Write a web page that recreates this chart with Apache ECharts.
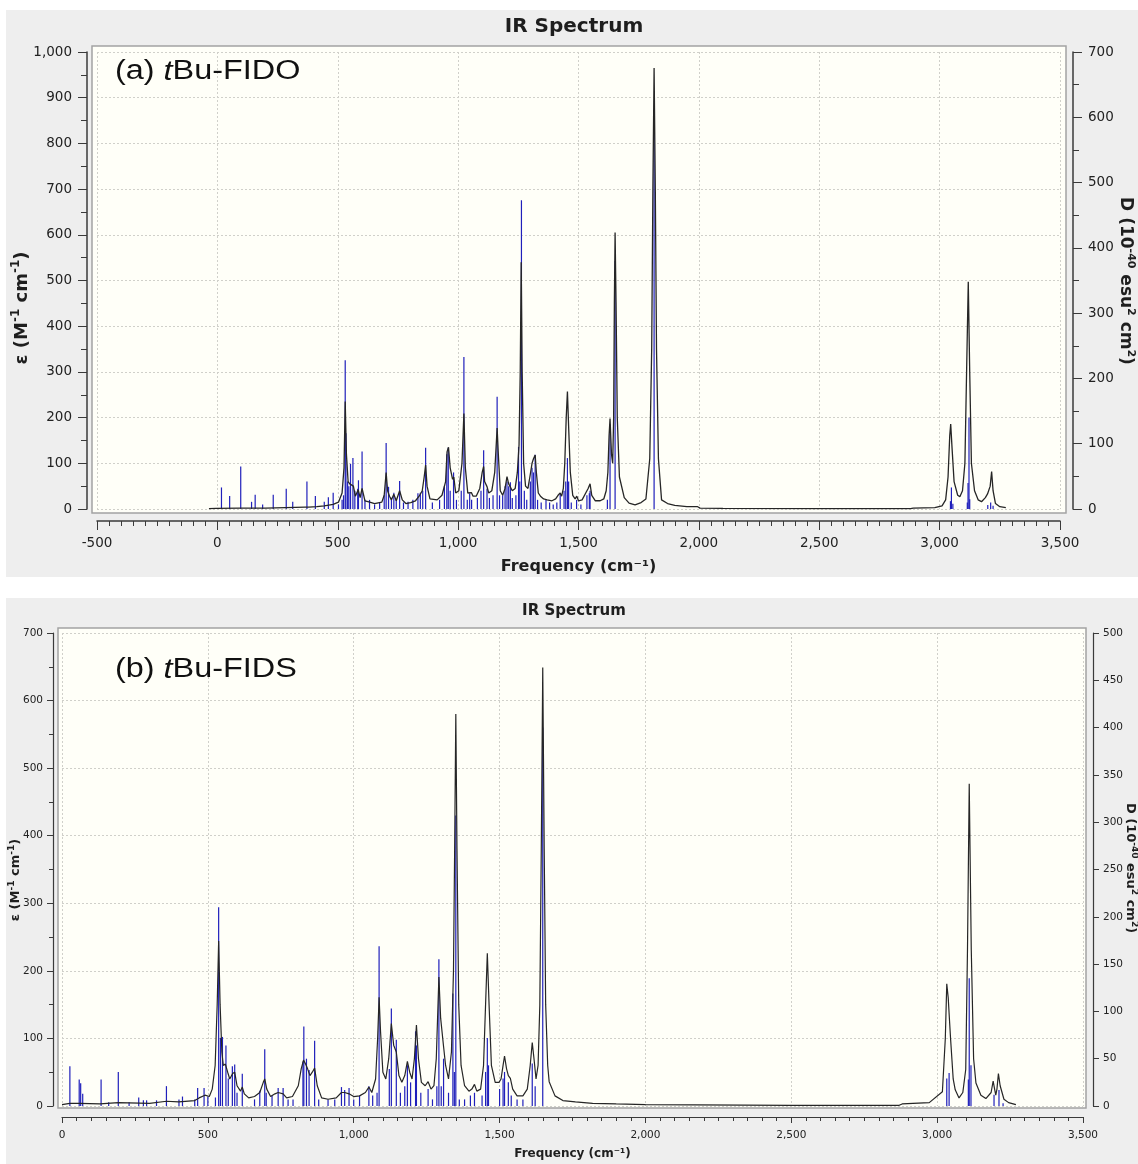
<!DOCTYPE html>
<html><head><meta charset="utf-8">
<script src="https://cdn.jsdelivr.net/npm/echarts@6/dist/echarts.min.js"></script>
<style>html,body{margin:0;padding:0;background:#fff;}#c{width:1138px;height:1164px;}</style>
</head><body><div id="c"></div>
<script>
// ---------- (a) tBu-FIDO ----------
const fidoCurveFreq = [
 -35,-5,95,97,100,200,283,286,289,365,
 372,380,413,444,481,503,518,526,531,536,
 543,550,558,565,573,585,593,601,613,633,
 653,683,693,701,707,715,723,733,743,757,
 768,783,803,823,838,851,859,865,871,883,
 913,933,948,954,960,967,977,982,990,1003,
 1016,1024,1030,1040,1055,1062,1075,1090,1100,1106,
 1110,1120,1127,1140,1152,1162,1167,1175,1185,1195,
 1203,1210,1217,1225,1237,1246,1253,1258,1262,1266,
 1272,1280,1290,1298,1307,1313,1320,1325,1333,1342,
 1355,1370,1390,1405,1415,1424,1430,1437,1443,1449,
 1454,1459,1466,1476,1486,1493,1500,1515,1530,1540,
 1548,1555,1570,1590,1605,1615,1622,1627,1631,1637,
 1642,1646,1649,1652,1656,1661,1670,1690,1710,1735,
 1760,1780,1796,1804,1809,1814,1819,1824,1832,1845,
 1870,1900,1950,1995,2005,2100,2500,2880,2890,2980,
 3010,3025,3035,3042,3046,3052,3060,3075,3084,3095,
 3105,3112,3119,3125,3132,3145,3160,3174,3190,3199,
 3206,3210,3216,3222,3232,3250,3275
];
const fidoCurveEps = [
 1,1.5,2,5,2,2,3,6,3,4,
 8,4,5,7,10,15,35,90,235,120,
 60,55,58,50,28,42,25,45,18,15,
 12,15,30,80,40,28,20,32,18,40,
 20,12,14,18,28,40,70,96,50,22,
 20,30,60,125,135,90,65,70,35,40,
 100,209,90,35,36,28,28,45,80,93,
 60,49,35,40,80,177,120,40,30,45,
 71,55,58,40,45,80,140,300,540,300,
 100,50,45,70,100,110,118,80,35,28,
 22,20,18,22,30,35,28,45,100,200,
 257,180,80,30,22,28,18,20,35,45,
 55,30,18,18,22,40,80,160,198,120,
 100,200,450,605,450,200,70,25,13,9,
 14,22,110,350,700,965,700,350,110,20,
 12,8,5,5,2,1.5,1,1,2,3,
 7,20,70,160,186,130,60,30,27,40,
 100,300,497,300,100,40,20,16,25,33,
 30,50,82,40,12,5,3
];
const fidoStickFreq = [
 17,51,97,142,157,188,232,286,313,372,
 407,444,461,481,503,518,524,531,534,541,
 546,553,563,571,583,586,601,613,632,653,
 674,693,701,711,723,733,743,757,773,792,
 812,833,843,853,865,893,923,943,953,959,
 967,981,993,1013,1024,1038,1048,1056,1080,1095,
 1106,1120,1130,1145,1162,1172,1185,1195,1203,1210,
 1217,1225,1240,1251,1256,1263,1275,1285,1300,1307,
 1313,1320,1330,1345,1365,1380,1395,1410,1424,1440,
 1447,1454,1459,1470,1492,1510,1535,1545,1548,1620,
 1631,1652,1814,3045,3049,3055,3115,3118,3122,3125,
 3200,3212,3222
];
const fidoStickD = [
 33,20,65,11,22,7,22,31,11,42,
 20,11,18,25,7,14,21,228,116,42,
 35,69,78,28,31,44,88,14,14,7,
 10,21,101,34,17,25,14,43,10,11,
 14,24,25,28,94,10,14,35,84,94,
 28,56,14,28,233,14,24,14,17,28,
 90,31,17,21,172,21,21,35,42,35,
 41,17,21,95,42,473,28,14,42,63,
 56,83,14,10,14,10,7,10,24,28,
 42,78,42,10,14,7,21,24,28,14,
 130,380,600,12,33,8,10,40,140,15,
 6,10,5
];

// ---------- (b) tBu-FIDS ----------
const fidsCurveFreq = [
 0,27,60,130,193,300,358,400,455,470,
 490,505,515,525,532,537,542,548,553,560,
 568,575,585,592,600,612,618,625,640,660,
 678,690,695,702,715,730,741,758,770,790,
 810,820,828,835,842,850,858,866,875,890,
 912,940,958,969,984,1000,1020,1040,1052,1062,
 1075,1082,1087,1092,1100,1110,1120,1129,1137,1146,
 1155,1165,1175,1184,1192,1200,1208,1215,1222,1232,
 1245,1255,1265,1275,1283,1292,1298,1308,1315,1325,
 1335,1342,1346,1350,1354,1360,1368,1380,1395,1405,
 1414,1422,1435,1445,1452,1458,1464,1472,1485,1498,
 1505,1512,1517,1524,1530,1537,1545,1560,1580,1595,
 1605,1612,1618,1625,1632,1638,1643,1648,1653,1658,
 1665,1670,1690,1717,1760,1819,1900,2000,2500,2870,
 2880,2973,3018,3028,3033,3038,3041,3046,3055,3062,
 3075,3088,3098,3104,3110,3117,3125,3133,3150,3167,
 3185,3192,3197,3201,3205,3210,3216,3229,3245,3270
];
const fidsCurveEps = [
 2,4,4,3,5,4,7,6,8,12,
 16,14,25,60,150,244,150,80,60,62,
 50,40,48,50,30,22,28,18,12,14,
 20,35,40,25,14,18,20,18,12,14,
 30,55,68,62,55,45,50,56,30,12,
 10,12,20,20,18,14,15,20,28,20,
 40,100,161,110,50,40,70,122,90,80,
 45,35,45,66,50,40,70,120,70,35,
 30,36,25,30,70,191,130,88,60,40,
 80,200,380,580,380,150,60,30,22,25,
 32,22,25,60,150,226,150,60,35,35,
 40,60,74,55,45,41,25,15,15,25,
 60,94,70,40,60,150,380,649,380,150,
 60,36,15,8,6,4,3,2,1,1,
 3,5,21,100,181,160,137,100,40,24,
 12,20,54,231,477,231,70,34,16,11,
 20,37,25,16,25,48,30,10,5,2
];
const fidsStickFreq = [
 27,59,64,71,134,160,193,230,263,279,
 290,324,358,401,413,455,465,487,500,526,
 537,543,550,562,570,584,592,600,618,660,
 678,695,700,720,741,758,775,792,826,829,
 838,847,866,880,912,935,958,969,984,1000,
 1020,1052,1065,1080,1087,1122,1129,1146,1160,1175,
 1184,1195,1212,1215,1230,1255,1270,1285,1292,1300,
 1308,1325,1340,1345,1350,1362,1380,1400,1414,1440,
 1452,1458,1462,1500,1512,1517,1530,1540,1560,1580,
 1612,1622,1648,3033,3041,3107,3110,3116,3195,3212,
 3226
];
const fidsStickD = [
 42,28,24,13,28,4,36,4,9,6,
 6,6,21,7,10,7,19,19,10,9,
 210,72,73,64,29,42,44,14,34,7,
 16,60,14,11,19,19,7,7,47,84,
 50,38,69,7,7,7,20,17,19,7,
 11,21,11,14,169,39,103,70,14,21,
 43,25,79,64,14,18,7,21,155,21,
 50,14,119,36,307,7,7,11,14,11,
 36,72,43,18,29,36,25,11,7,7,
 45,21,400,29,35,28,135,43,12,17,
 3
];

const fmt = v => String(v).replace(/\B(?=(\d{3})+(?!\d))/g, ',');
const zip = (a, b) => a.map((v, i) => [v, b[i]]);
const AX = '#3a3a3a';
const FONT = 'DejaVu Sans';
const gridLine = {show: true, lineStyle: {color: '#d0d0ca', type: [2, 2], width: 1}};

function stickRenderer(maxD) {
  return function (params, api) {
    const f = api.value(0), d = Math.min(api.value(1), maxD);
    const p0 = api.coord([f, 0]), p1 = api.coord([f, d]);
    return {type: 'line', shape: {x1: p0[0], y1: p0[1], x2: p1[0], y2: p1[1]},
      style: {stroke: '#2020bb', lineWidth: 1.2}};
  };
}

function richTitle(parts, big, small) {
  return {
    text: parts,
    rich: {
      b: {fontFamily: FONT, fontWeight: 'bold', fontSize: big, fill: '#1e1e1e', lineHeight: big * 1.3},
      s: {fontFamily: FONT, fontWeight: 'bold', fontSize: small, fill: '#1e1e1e', verticalAlign: 'top', lineHeight: big * 1.3}
    },
    align: 'center', verticalAlign: 'middle'
  };
}
const epsTitle = '{b|ε (M}{s|-1}{b| cm}{s|-1}{b|)}';
const dTitle = '{b|D (10}{s|-40}{b| esu}{s|2}{b| cm}{s|2}{b|)}';

const chart = echarts.init(document.getElementById('c'), null, {renderer: 'canvas'});
const nameStyle = (size) => ({fontFamily: FONT, fontWeight: 'bold', fontSize: size, color: '#1e1e1e'});
const annRich = {n: {fontFamily: 'Liberation Sans', fontSize: 27, fill: '#111'}, i: {fontFamily: 'Liberation Sans', fontStyle: 'italic', fontSize: 27, fill: '#111'}};

chart.setOption({
  animation: false,
  backgroundColor: '#ffffff',
  grid: [
    {left: 97, top: 52, width: 963, height: 457},
    {left: 62, top: 633, width: 1021, height: 473}
  ],
  graphic: [
    {type: 'rect', z: -30, shape: {x: 6, y: 10, width: 1132, height: 567}, style: {fill: '#eeeeee'}},
    {type: 'rect', z: -30, shape: {x: 6, y: 598, width: 1132, height: 566}, style: {fill: '#eeeeee'}},
    {type: 'rect', z: -20, shape: {x: 92, y: 46, width: 974, height: 467}, style: {fill: '#fffff8', stroke: '#a3a3a3', lineWidth: 1.5}},
    {type: 'rect', z: -20, shape: {x: 58, y: 628, width: 1028, height: 480}, style: {fill: '#fffff8', stroke: '#a3a3a3', lineWidth: 1.5}},
    {type: 'text', z: 10, x: 574, y: 27, style: {text: 'IR Spectrum', align: 'center', verticalAlign: 'middle', fontFamily: FONT, fontWeight: 'bold', fontSize: 20, fill: '#1e1e1e'}},
    {type: 'text', z: 10, x: 574, y: 611, style: {text: 'IR Spectrum', align: 'center', verticalAlign: 'middle', fontFamily: FONT, fontWeight: 'bold', fontSize: 15, fill: '#1e1e1e'}},
    {type: 'text', z: 10, x: 115, y: 72, scaleX: 1.2, style: {text: '{n|(a) }{i|t}{n|Bu-FIDO}', verticalAlign: 'middle', rich: annRich}},
    {type: 'text', z: 10, x: 115, y: 670, scaleX: 1.2, style: {text: '{n|(b) }{i|t}{n|Bu-FIDS}', verticalAlign: 'middle', rich: annRich}},
    {type: 'text', z: 10, x: 22, y: 308, rotation: Math.PI / 2, style: richTitle(epsTitle, 18, 12)},
    {type: 'text', z: 10, x: 1125, y: 281, rotation: -Math.PI / 2, style: richTitle(dTitle, 17, 11)},
    {type: 'text', z: 10, x: 16, y: 880, rotation: Math.PI / 2, style: richTitle(epsTitle, 13, 9)},
    {type: 'text', z: 10, x: 1130, y: 868, rotation: -Math.PI / 2, style: richTitle(dTitle, 13, 9)}
  ],
  xAxis: [
    {gridIndex: 0, type: 'value', min: -500, max: 3500, interval: 500, position: 'bottom', offset: 12,
      axisLine: {show: true, onZero: false, lineStyle: {color: AX, width: 1.5}},
      axisTick: {show: true, length: 9, lineStyle: {color: AX}},
      minorTick: {show: true, splitNumber: 10, length: 5, lineStyle: {color: AX}},
      axisLabel: {formatter: fmt, fontFamily: FONT, fontSize: 13.5, color: '#222', margin: 15},
      splitLine: gridLine,
      name: 'Frequency (cm⁻¹)', nameLocation: 'middle', nameGap: 38, nameTextStyle: nameStyle(16)},
    {gridIndex: 1, type: 'value', min: 0, max: 3500, interval: 500, position: 'bottom', offset: 11,
      axisLine: {show: true, onZero: false, lineStyle: {color: AX, width: 1.2}},
      axisTick: {show: true, length: 6, lineStyle: {color: AX}},
      minorTick: {show: true, splitNumber: 10, length: 4, lineStyle: {color: AX}},
      axisLabel: {formatter: fmt, fontFamily: FONT, fontSize: 10.5, color: '#222', margin: 13},
      splitLine: gridLine,
      name: 'Frequency (cm⁻¹)', nameLocation: 'middle', nameGap: 31, nameTextStyle: nameStyle(12)}
  ],
  yAxis: [
    {gridIndex: 0, type: 'value', min: 0, max: 1000, interval: 100, position: 'left', offset: 10,
      axisLine: {show: true, onZero: false, lineStyle: {color: AX, width: 1.5}},
      axisTick: {show: true, length: 9, lineStyle: {color: AX}},
      minorTick: {show: true, splitNumber: 2, length: 6, lineStyle: {color: AX}},
      axisLabel: {formatter: fmt, fontFamily: FONT, fontSize: 13.5, color: '#222', margin: 15},
      splitLine: gridLine},
    {gridIndex: 0, type: 'value', min: 0, max: 700, interval: 100, position: 'right', offset: 13,
      axisLine: {show: true, onZero: false, lineStyle: {color: AX, width: 1.5}},
      axisTick: {show: true, length: 9, lineStyle: {color: AX}},
      minorTick: {show: true, splitNumber: 2, length: 6, lineStyle: {color: AX}},
      axisLabel: {formatter: fmt, fontFamily: FONT, fontSize: 13.5, color: '#222', margin: 15},
      splitLine: {show: false}},
    {gridIndex: 1, type: 'value', min: 0, max: 700, interval: 100, position: 'left', offset: 9,
      axisLine: {show: true, onZero: false, lineStyle: {color: AX, width: 1.2}},
      axisTick: {show: true, length: 6, lineStyle: {color: AX}},
      minorTick: {show: true, splitNumber: 2, length: 4, lineStyle: {color: AX}},
      axisLabel: {formatter: fmt, fontFamily: FONT, fontSize: 10.5, color: '#222', margin: 10},
      splitLine: gridLine},
    {gridIndex: 1, type: 'value', min: 0, max: 500, interval: 50, position: 'right', offset: 10,
      axisLine: {show: true, onZero: false, lineStyle: {color: AX, width: 1.2}},
      axisTick: {show: true, length: 6, lineStyle: {color: AX}},
      axisLabel: {formatter: fmt, fontFamily: FONT, fontSize: 10.5, color: '#222', margin: 10},
      splitLine: {show: false}}
  ],
  series: [
    {type: 'custom', xAxisIndex: 0, yAxisIndex: 1, z: 2, renderItem: stickRenderer(700),
      encode: {x: 0, y: 1}, data: zip(fidoStickFreq, fidoStickD)},
    {type: 'line', xAxisIndex: 0, yAxisIndex: 0, z: 3, symbol: 'none', showSymbol: false,
      lineStyle: {color: '#262626', width: 1.3}, data: zip(fidoCurveFreq, fidoCurveEps)},
    {type: 'custom', xAxisIndex: 1, yAxisIndex: 3, z: 2, renderItem: stickRenderer(500),
      encode: {x: 0, y: 1}, data: zip(fidsStickFreq, fidsStickD)},
    {type: 'line', xAxisIndex: 1, yAxisIndex: 2, z: 3, symbol: 'none', showSymbol: false,
      lineStyle: {color: '#262626', width: 1.2}, data: zip(fidsCurveFreq, fidsCurveEps)}
  ]
});
</script></body></html>
